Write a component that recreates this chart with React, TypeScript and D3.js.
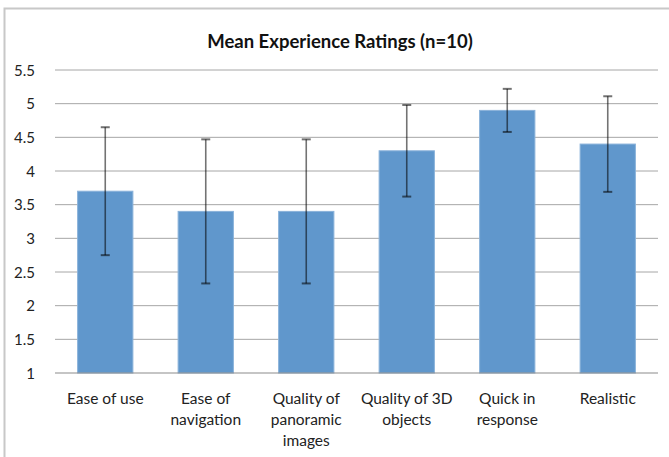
import React from "react";
import * as d3 from "d3";

const categories: string[][] = [
  ["Ease of use"],
  ["Ease of", "navigation"],
  ["Quality of", "panoramic", "images"],
  ["Quality of 3D", "objects"],
  ["Quick in", "response"],
  ["Realistic"],
];
const means = [3.7, 3.4, 3.4, 4.3, 4.9, 4.4];
const errors = [0.95, 1.07, 1.07, 0.68, 0.32, 0.71];
const yTicks = [1, 1.5, 2, 2.5, 3, 3.5, 4, 4.5, 5, 5.5];
const title = "Mean Experience Ratings (n=10)";

const W = 669;
const H = 457;
const plot = { left: 55, right: 658, top: 70, bottom: 373 };
const font = "Lato, 'Open Sans', sans-serif";

export default function App() {
  const x = d3
    .scaleBand<number>()
    .domain(d3.range(categories.length))
    .range([plot.left, plot.right])
    .paddingInner(0.45)
    .paddingOuter(0.225);
  const y = d3.scaleLinear().domain([1, 5.5]).range([plot.bottom, plot.top]);
  const capW = 9;

  return (
    <svg
      width={W}
      height={H}
      style={{ position: "absolute", left: 0, top: 0, display: "block" }}
      fontFamily={font}
    >
      <rect x={0} y={0} width={W} height={H} fill="#fff" />
      <rect x={4.5} y={8.5} width={W + 10} height={H + 10} fill="none" stroke="#c8c8c8" strokeWidth={2} />
      <text x={340} y={47.5} textAnchor="middle" fontSize={18.5} fontWeight={700} fill="#111">
        {title}
      </text>
      {yTicks.map((t) => (
        <g key={t}>
          {t > 1 && (
            <line x1={plot.left} x2={plot.right} y1={y(t)} y2={y(t)} stroke="#a6a6a6" strokeWidth={1} />
          )}
          <text x={35} y={y(t) + 5.5} textAnchor="end" fontSize={15} fill="#222">
            {String(t)}
          </text>
        </g>
      ))}
      {means.map((m, i) => (
        <rect
          key={i}
          x={x(i)!}
          y={y(m)}
          width={x.bandwidth()}
          height={y(1) - y(m)}
          fill="#6097cc"
          stroke="#8ab2da"
          strokeWidth={1}
        />
      ))}
      <line x1={plot.left} x2={plot.right} y1={y(1)} y2={y(1)} stroke="#8c8c8c" strokeWidth={1.2} />
      {means.map((m, i) => {
        const cx = x(i)! + x.bandwidth() / 2;
        const hi = y(m + errors[i]);
        const lo = y(m - errors[i]);
        return (
          <g key={i} stroke="#000" strokeOpacity={0.55} strokeWidth={1.6}>
            <line x1={cx} x2={cx} y1={hi} y2={lo} />
            <line x1={cx - capW / 2} x2={cx + capW / 2} y1={hi} y2={hi} strokeWidth={2} />
            <line x1={cx - capW / 2} x2={cx + capW / 2} y1={lo} y2={lo} strokeWidth={2} />
          </g>
        );
      })}
      {categories.map((lines, i) => {
        const cx = x(i)! + x.bandwidth() / 2;
        return (
          <text key={i} textAnchor="middle" fontSize={15.5} fill="#222">
            {lines.map((l, j) => (
              <tspan key={j} x={cx} y={404 + j * 21}>
                {l}
              </tspan>
            ))}
          </text>
        );
      })}
    </svg>
  );
}
